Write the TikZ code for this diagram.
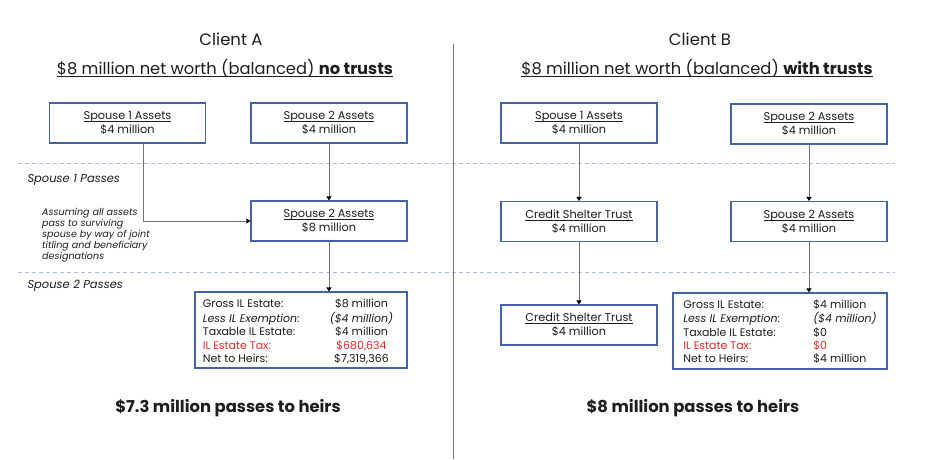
\documentclass[tikz,border=0pt]{standalone}
\usepackage{fontspec}
\setmainfont{Poppins}
\usepackage{tikz}
\usetikzlibrary{arrows.meta, positioning, calc}
\definecolor{boxcolor}{RGB}{70, 100, 165}
\definecolor{linecolor}{RGB}{115, 115, 115}
\definecolor{dashcolor}{RGB}{165, 192, 215}
\definecolor{taxcolor}{RGB}{240, 40, 40}
\definecolor{inkcolor}{RGB}{30, 30, 30}
\newcommand{\lineunder}[1]{\setbox0\hbox{#1}\rlap{\rule[-2pt]{\wd0}{0.5pt}}\box0}

\begin{document}
\begin{tikzpicture}[x=1pt, y=-1pt, every node/.style={text=inkcolor},
    assetbox/.style={draw=boxcolor, line width=1.1pt, fill=white, minimum width=156pt, minimum height=40pt, align=center, inner sep=0pt, font=\fontsize{11.3}{14}\selectfont},
    estatebox/.style={draw=boxcolor, line width=1.1pt, fill=white, inner sep=0pt, font=\fontsize{11}{13.4}\selectfont},
    flow/.style={draw=linecolor, line width=0.9pt, -{Triangle[color=black, width=5pt, length=4pt]}},
    passline/.style={draw=dashcolor, line width=0.8pt, dash pattern=on 4pt off 3pt}
]
\useasboundingbox (0,0) rectangle (938,459);

\draw[passline] (18,163) -- (895,163);
\draw[passline] (18,272) -- (895,272);
\draw[draw=linecolor, line width=0.8pt] (453,44) -- (453,459);

\node[font=\fontsize{16.5}{19}\selectfont] (titleA) at (231,39) {Client A};
\node[font=\fontsize{16.3}{19}\selectfont] (subA) at (225,68) {\lineunder{\$8 million net worth (balanced) \textbf{no trusts}}};
\node[font=\fontsize{16.5}{19}\selectfont] (titleB) at (700,39) {Client B};
\node[font=\fontsize{16.3}{19}\selectfont] (subB) at (697,68) {\lineunder{\$8 million net worth (balanced) \textbf{with trusts}}};

\node[anchor=west, font=\fontsize{11.5}{14}\selectfont\itshape] (passOne) at (24,180) {Spouse 1 Passes};
\node[anchor=west, font=\fontsize{11.5}{14}\selectfont\itshape] (passTwo) at (24,286) {Spouse 2 Passes};

\node[assetbox] (spouseOneA) at (127.5,123) {\lineunder{Spouse 1 Assets}\\\$4 million};
\node[assetbox] (spouseTwoA) at (329,123) {\lineunder{Spouse 2 Assets}\\\$4 million};
\node[assetbox] (spouseTwoSumA) at (329,221) {\lineunder{Spouse 2 Assets}\\\$8 million};
\node[anchor=north west, align=left, inner sep=0pt, font=\fontsize{9.6}{11}\selectfont\itshape] (noteA) at (42,207.5) {Assuming all assets\\pass to surviving\\spouse by way of joint\\titling and beneficiary\\designations};
\node[estatebox, minimum width=212pt, minimum height=76pt] (estateA) at (301,330) {\raisebox{-2.5pt}[\height][\depth]{%
    \begin{tabular}{@{}p{127pt}@{}c@{\hspace{6pt}}}
    Gross IL Estate: & \$8 million \\
    \textit{Less IL Exemption}: & \textit{(\$4 million)} \\
    Taxable IL Estate: & \$4 million \\
    \textcolor{taxcolor}{IL Estate Tax:} & \textcolor{taxcolor}{\$680,634} \\
    Net to Heirs: & \$7,319,366 \\
    \end{tabular}}
};

\node[assetbox] (spouseOneB) at (579,123) {\lineunder{Spouse 1 Assets}\\\$4 million};
\node[assetbox] (spouseTwoB) at (809,124) {\lineunder{Spouse 2 Assets}\\\$4 million};
\node[assetbox] (trustB) at (579,221.5) {\lineunder{Credit Shelter Trust}\\\$4 million};
\node[assetbox] (spouseTwoSumB) at (809,221.5) {\lineunder{Spouse 2 Assets}\\\$4 million};
\node[assetbox] (trustEndB) at (579,325) {\lineunder{Credit Shelter Trust}\\\$4 million};
\node[estatebox, minimum width=214pt, minimum height=76pt] (estateB) at (780,331) {\raisebox{-2pt}[\height][\depth]{%
    \begin{tabular}{@{}p{130pt}@{}l@{}}
    Gross IL Estate: & \$4 million \\
    \textit{Less IL Exemption}: & \textit{(\$4 million)} \\
    Taxable IL Estate: & \$0 \\
    \textcolor{taxcolor}{IL Estate Tax:} & \textcolor{taxcolor}{\$0} \\
    Net to Heirs: & \$4 million \\
    \end{tabular}}
};

\draw[flow] ([xshift=15.5pt]spouseOneA.south) |- (spouseTwoSumA.west);
\draw[flow] (spouseTwoA) -- (spouseTwoSumA);
\draw[flow] (spouseTwoSumA.south) -- (spouseTwoSumA.south |- estateA.north);
\draw[flow] (spouseOneB) -- (trustB);
\draw[flow] (trustB) -- (trustEndB);
\draw[flow] (spouseTwoB) -- (spouseTwoSumB);
\draw[flow] (spouseTwoSumB.south) -- (spouseTwoSumB.south |- estateB.north);

\node[font=\fontsize{16.4}{20}\selectfont\bfseries] (heirsA) at (228,408) {\$7.3 million passes to heirs};
\node[font=\fontsize{16.4}{20}\selectfont\bfseries] (heirsB) at (693,408) {\$8 million passes to heirs};
\end{tikzpicture}
\end{document}
